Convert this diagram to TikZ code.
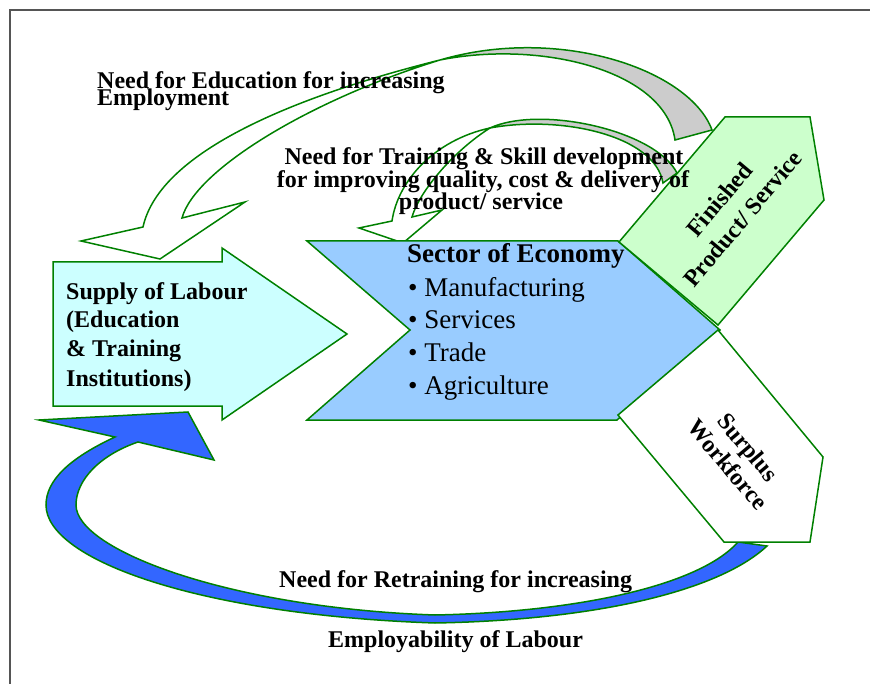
\documentclass[tikz,border=0pt]{standalone}
\usepackage{fontspec}
\setmainfont{Liberation Serif}
\definecolor{lgreen}{HTML}{008000}
\definecolor{gfill}{HTML}{CCCCCC}
\definecolor{bluearr}{HTML}{3366FF}
\definecolor{supplyfill}{HTML}{CCFFFF}
\definecolor{sectorfill}{HTML}{99CCFF}
\definecolor{finfill}{HTML}{CCFFCC}
\definecolor{framec}{HTML}{555555}
\begin{document}
\begin{tikzpicture}[x=1pt,y=-1pt,
  arr/.style={draw=lgreen, line width=1.5pt, line join=miter},
  lbl/.style={font=\fontsize{24}{29}\selectfont\bfseries, inner sep=0pt},
  seclbl/.style={font=\fontsize{27}{32}\selectfont\bfseries, inner sep=0pt},
  bul/.style={font=\fontsize{27}{32}\selectfont, inner sep=0pt}]
\useasboundingbox (0,0) rectangle (870,684);
% frame
\draw[framec, line width=1.6pt] (10,684) -- (10,10) -- (870,10);

% big curved arrow: Need for Education
\draw[arr] (182,218) -- (245,202) -- (160,259) -- (81,241) -- (143,227)
  .. controls (160,150) and (300,95) .. (440,60)
  .. controls (310,100) and (195,170) .. (182,218) -- cycle;
\filldraw[arr, fill=gfill] (440,60) .. controls (560,25) and (690,70) .. (712,130)
  -- (675,140) .. controls (665,70) and (540,40) .. (440,60) -- cycle;

% training curved arrow
\draw[arr] (412,217) -- (442,210) -- (403,243) -- (359,228) -- (392,221)
  .. controls (398,180) and (435,140) .. (490,128)
  .. controls (455,150) and (420,190) .. (412,217) -- cycle;
\filldraw[arr, fill=gfill] (490,128) .. controls (540,105) and (655,130) .. (677,173)
  -- (663,183) .. controls (655,135) and (560,115) .. (490,128) -- cycle;

% blue retraining arrow
\filldraw[arr, fill=bluearr] (115,437) .. controls (70,458) and (46,480) .. (46,505)
  .. controls (46,560) and (200,615) .. (435,623)
  .. controls (600,620) and (720,590) .. (767,546)
  -- (738,542) .. controls (700,585) and (580,612) .. (435,615)
  .. controls (230,608) and (76,550) .. (76,505)
  .. controls (76,480) and (100,455) .. (138,442)
  -- (214,460) -- (188,412) -- (39,420) -- cycle;

% supply of labour arrow
\filldraw[arr, fill=supplyfill] (53,262) -- (222,262) -- (222,248) -- (347,334)
  -- (222,420) -- (222,406) -- (53,406) -- cycle;
% sector chevron
\filldraw[arr, fill=sectorfill] (307,241) -- (618,241) -- (720,330) -- (617,420)
  -- (307,420) -- (410,330) -- cycle;
% finished product pentagon
\filldraw[arr, fill=finfill] (619,242) -- (725,117) -- (810,117) -- (824,200) -- (718,325) -- cycle;
% surplus workforce pentagon
\filldraw[arr, fill=white] (618,415) -- (718,330) -- (823,457) -- (810,542) -- (724,542) -- cycle;

% texts
\node[lbl, anchor=base west] (edu1) at (97,89) {Need for Education for increasing};
\node[lbl, anchor=base west] (edu2) at (97,106) {Employment};
\node[lbl, anchor=base] (tr1) at (484,165) {Need for Training \& Skill development};
\node[lbl, anchor=base] (tr2) at (483,188) {for improving quality, cost \& delivery of};
\node[lbl, anchor=base] (tr3) at (481,210) {product/ service};

\node[lbl, anchor=base west] (sup1) at (66,300) {Supply of Labour};
\node[lbl, anchor=base west] (sup2) at (66,328) {(Education};
\node[lbl, anchor=base west] (sup3) at (66,357) {\& Training};
\node[lbl, anchor=base west] (sup4) at (66,387) {Institutions)};

\node[seclbl, anchor=base west] (sec) at (407,263) {Sector of Economy};
\node[bul, anchor=base west] (b1) at (408,297) {• Manufacturing};
\node[bul, anchor=base west] (b2) at (408,329) {• Services};
\node[bul, anchor=base west] (b3) at (408,362) {• Trade};
\node[bul, anchor=base west] (b4) at (408,395) {• Agriculture};

\node[lbl, font=\fontsize{24}{30}\selectfont\bfseries, align=center, rotate=50] (fin) at (731,209) {Finished\\Product/ Service};
\node[lbl, font=\fontsize{24}{27}\selectfont\bfseries, align=center, rotate=-50] (sur) at (738,456) {Surplus\\Workforce};

\node[lbl, anchor=base west] (re1) at (279,587) {Need for Retraining for increasing};
\node[lbl, anchor=base west] (re2) at (328,647) {Employability of Labour};
\end{tikzpicture}
\end{document}
